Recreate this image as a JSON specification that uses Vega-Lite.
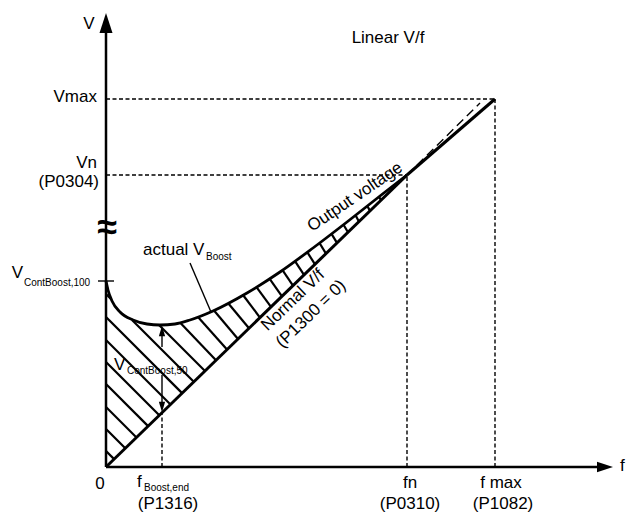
{
  "$schema": "https://vega.github.io/schema/vega-lite/v6.json",
  "width": 507,
  "height": 454,
  "autosize": {"type": "none"},
  "padding": {"left": 106, "top": 13, "right": 15, "bottom": 50},
  "background": "white",
  "config": {"view": {"stroke": null}, "text": {"font": "Liberation Sans", "color": "black"}},
  "datasets": {
    "curve": [
      {"x": 0, "y": 186}, {"x": 2, "y": 177}, {"x": 6, "y": 166}, {"x": 14, "y": 155},
      {"x": 27, "y": 147}, {"x": 41, "y": 143}, {"x": 54, "y": 142}, {"x": 69, "y": 143},
      {"x": 84, "y": 147}, {"x": 107, "y": 156}, {"x": 141, "y": 174}, {"x": 174, "y": 195},
      {"x": 207, "y": 219}, {"x": 241, "y": 245}, {"x": 274, "y": 271}, {"x": 301, "y": 292}
    ],
    "solid": [
      {"x": 0, "y": 0, "x2": 301, "y2": 292},
      {"x": 301, "y": 292, "x2": 389, "y2": 368}
    ],
    "axes": [
      {"x": 0, "y": 0, "x2": 0, "y2": 436},
      {"x": 0, "y": 0, "x2": 493, "y2": 0}
    ],
    "dashed": [
      {"x": 0, "y": 368, "x2": 389, "y2": 368},
      {"x": 389, "y": 0, "x2": 389, "y2": 368},
      {"x": 0, "y": 292, "x2": 301, "y2": 292},
      {"x": 301, "y": 0, "x2": 301, "y2": 292},
      {"x": 56, "y": 0, "x2": 56, "y2": 54}
    ],
    "dashedLong": [
      {"x": 301, "y": 292, "x2": 374, "y2": 364}
    ],
    "hatch": [
      {"x": 0, "y": 16, "x2": 8.1, "y2": 7.9},
      {"x": 0, "y": 38, "x2": 19.3, "y2": 18.7},
      {"x": 0, "y": 60, "x2": 30.5, "y2": 29.5},
      {"x": 0, "y": 83, "x2": 42.1, "y2": 40.9},
      {"x": 0, "y": 105, "x2": 53.3, "y2": 51.7},
      {"x": 0, "y": 127, "x2": 64.5, "y2": 62.5},
      {"x": 0, "y": 150, "x2": 76.1, "y2": 73.9},
      {"x": 0, "y": 173, "x2": 5, "y2": 168},
      {"x": 26, "y": 147, "x2": 87.8, "y2": 85.2},
      {"x": 53, "y": 142, "x2": 99, "y2": 96},
      {"x": 74, "y": 144.4, "x2": 110, "y2": 106.7},
      {"x": 92, "y": 150, "x2": 121, "y2": 117.4},
      {"x": 108, "y": 156.5, "x2": 132, "y2": 128},
      {"x": 122, "y": 164, "x2": 143, "y2": 138.7},
      {"x": 137, "y": 172, "x2": 154, "y2": 149.4},
      {"x": 150.5, "y": 179.8, "x2": 165, "y2": 160.1},
      {"x": 163.5, "y": 188.3, "x2": 176, "y2": 170.7},
      {"x": 176.5, "y": 196.8, "x2": 187, "y2": 181.4},
      {"x": 189, "y": 205.9, "x2": 198, "y2": 192.1},
      {"x": 201.3, "y": 214.8, "x2": 209, "y2": 202.7},
      {"x": 213.5, "y": 224, "x2": 220, "y2": 213.4},
      {"x": 225.5, "y": 233.1, "x2": 231, "y2": 224.1},
      {"x": 237.5, "y": 242.3, "x2": 242, "y2": 234.7},
      {"x": 249.5, "y": 251.7, "x2": 253, "y2": 245.4},
      {"x": 261.3, "y": 261, "x2": 264, "y2": 256.1},
      {"x": 273, "y": 270.4, "x2": 275, "y2": 266.8},
      {"x": 284.9, "y": 279.4, "x2": 286, "y2": 277.4}
    ],
    "thin": [
      {"x": -8, "y": 186, "x2": 8, "y2": 186},
      {"x": 84, "y": 204, "x2": 105, "y2": 155},
      {"x": 56, "y": 120, "x2": 56, "y2": 134},
      {"x": 56, "y": 92, "x2": 56, "y2": 64}
    ],
    "arrowV": [{"x": 0, "y": 444}],
    "arrowF": [{"x": 499, "y": 0}],
    "smallUp": [{"x": 56, "y": 136}],
    "smallDown": [{"x": 56, "y": 60}],
    "labels": [
      {"g": "R", "x": -9, "y": 370, "t": "Vmax"},
      {"g": "R", "x": -9, "y": 304, "t": "Vn"},
      {"g": "R", "x": -7, "y": 285, "t": "(P0304)"},
      {"g": "R", "x": -83, "y": 194, "t": "V"},
      {"g": "C", "x": -17, "y": 443, "t": "V"},
      {"g": "C", "x": 282, "y": 429, "t": "Linear V/f"},
      {"g": "C", "x": -6, "y": -17, "t": "0"},
      {"g": "C", "x": 304, "y": -16, "t": "fn"},
      {"g": "C", "x": 304, "y": -37, "t": "(P0310)"},
      {"g": "C", "x": 395, "y": -16, "t": "f max"},
      {"g": "C", "x": 397, "y": -37, "t": "(P1082)"},
      {"g": "C", "x": 62, "y": -37, "t": "(P1316)"},
      {"g": "L", "x": 514, "y": 1, "t": "f"},
      {"g": "L", "x": 37, "y": 217, "t": "actual V"},
      {"g": "L", "x": 8, "y": 102, "t": "V"},
      {"g": "L", "x": 31, "y": -15, "t": "f"},
      {"g": "S", "x": -82, "y": 184, "t": "ContBoost,100"},
      {"g": "S", "x": 21, "y": 96, "t": "ContBoost,50"},
      {"g": "S", "x": 100, "y": 210, "t": "Boost"},
      {"g": "S", "x": 38, "y": -21, "t": "Boost,end"},
      {"g": "O", "x": 249, "y": 270, "t": "Output voltage"},
      {"g": "N", "x": 187, "y": 167, "t": "Normal V/f"},
      {"g": "N", "x": 205, "y": 153, "t": "(P1300 = 0)"},
      {"g": "W", "x": 1, "y": 239, "t": "≈"}
    ]
  },
  "encoding": {
    "x": {"field": "x", "type": "quantitative", "scale": {"domain": [0, 507], "nice": false, "zero": false}, "axis": null},
    "y": {"field": "y", "type": "quantitative", "scale": {"domain": [0, 454], "nice": false, "zero": false}, "axis": null}
  },
  "layer": [
    {"data": {"name": "hatch"}, "mark": {"type": "rule", "color": "black", "strokeWidth": 2.2}, "encoding": {"x2": {"field": "x2"}, "y2": {"field": "y2"}}},
    {"data": {"name": "dashed"}, "mark": {"type": "rule", "color": "black", "strokeWidth": 1.4, "strokeDash": [4, 2.5]}, "encoding": {"x2": {"field": "x2"}, "y2": {"field": "y2"}}},
    {"data": {"name": "dashedLong"}, "mark": {"type": "rule", "color": "black", "strokeWidth": 1.4, "strokeDash": [9, 5]}, "encoding": {"x2": {"field": "x2"}, "y2": {"field": "y2"}}},
    {"data": {"name": "curve"}, "mark": {"type": "line", "color": "black", "strokeWidth": 2.8, "interpolate": "monotone"}, "encoding": {}},
    {"data": {"name": "solid"}, "mark": {"type": "rule", "color": "black", "strokeWidth": 3}, "encoding": {"x2": {"field": "x2"}, "y2": {"field": "y2"}}},
    {"data": {"name": "axes"}, "mark": {"type": "rule", "color": "black", "strokeWidth": 2.5}, "encoding": {"x2": {"field": "x2"}, "y2": {"field": "y2"}}},
    {"data": {"name": "thin"}, "mark": {"type": "rule", "color": "black", "strokeWidth": 1.4}, "encoding": {"x2": {"field": "x2"}, "y2": {"field": "y2"}}},
    {"data": {"name": "arrowV"}, "mark": {"type": "point", "shape": "M0,-1L0.65,1L-0.65,1Z", "size": 400, "filled": true, "color": "black", "opacity": 1, "strokeWidth": 0}},
    {"data": {"name": "arrowF"}, "mark": {"type": "point", "shape": "M1,0L-1,-0.65L-1,0.65Z", "size": 256, "filled": true, "color": "black", "opacity": 1, "strokeWidth": 0}},
    {"data": {"name": "smallUp"}, "mark": {"type": "point", "shape": "M0,-1L0.6,1L-0.6,1Z", "size": 110, "filled": true, "color": "black", "opacity": 1, "strokeWidth": 0}},
    {"data": {"name": "smallDown"}, "mark": {"type": "point", "shape": "M0,1L0.6,-1L-0.6,-1Z", "size": 110, "filled": true, "color": "black", "opacity": 1, "strokeWidth": 0}},
    {"data": {"name": "labels"}, "transform": [{"filter": {"field": "g", "equal": "R"}}], "mark": {"type": "text", "align": "right", "baseline": "middle", "fontSize": 17}, "encoding": {"text": {"field": "t"}}},
    {"data": {"name": "labels"}, "transform": [{"filter": {"field": "g", "equal": "C"}}], "mark": {"type": "text", "align": "center", "baseline": "middle", "fontSize": 17}, "encoding": {"text": {"field": "t"}}},
    {"data": {"name": "labels"}, "transform": [{"filter": {"field": "g", "equal": "L"}}], "mark": {"type": "text", "align": "left", "baseline": "middle", "fontSize": 17}, "encoding": {"text": {"field": "t"}}},
    {"data": {"name": "labels"}, "transform": [{"filter": {"field": "g", "equal": "S"}}], "mark": {"type": "text", "align": "left", "baseline": "middle", "fontSize": 10}, "encoding": {"text": {"field": "t"}}},
    {"data": {"name": "labels"}, "transform": [{"filter": {"field": "g", "equal": "O"}}], "mark": {"type": "text", "align": "center", "baseline": "middle", "fontSize": 17, "angle": -34}, "encoding": {"text": {"field": "t"}}},
    {"data": {"name": "labels"}, "transform": [{"filter": {"field": "g", "equal": "N"}}], "mark": {"type": "text", "align": "center", "baseline": "middle", "fontSize": 17, "angle": -44}, "encoding": {"text": {"field": "t"}}},
    {"data": {"name": "labels"}, "transform": [{"filter": {"field": "g", "equal": "W"}}], "mark": {"type": "text", "align": "center", "baseline": "middle", "fontSize": 36, "fontWeight": "bold"}, "encoding": {"text": {"field": "t"}}}
  ]
}
